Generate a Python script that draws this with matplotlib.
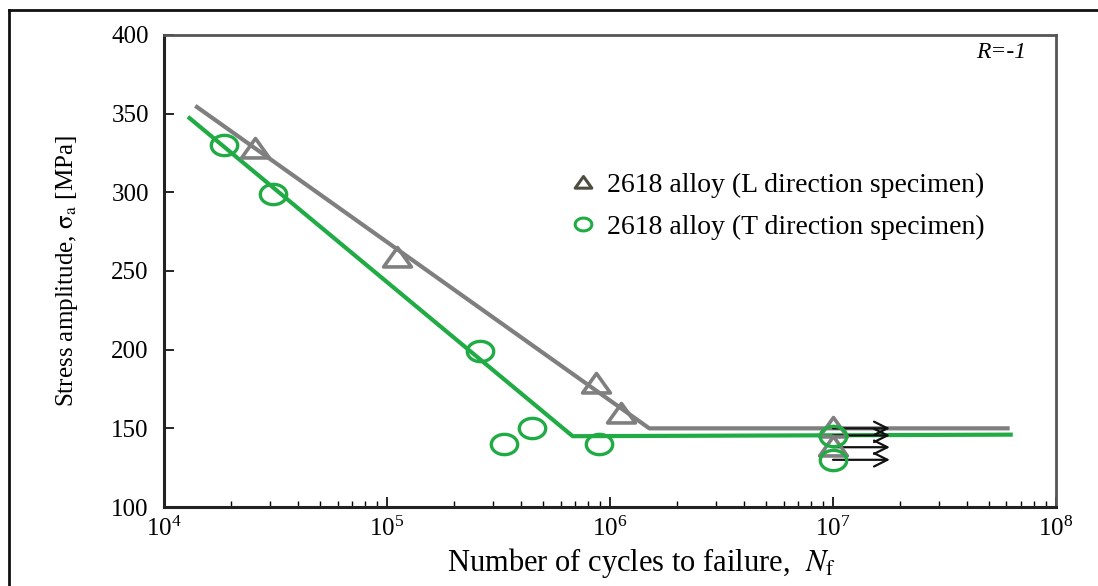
import matplotlib
matplotlib.use("Agg")
import numpy as np
import matplotlib.pyplot as plt
from matplotlib.lines import Line2D
from matplotlib.path import Path

plt.rcParams["font.family"] = ["Liberation Serif", "DejaVu Serif"]
plt.rcParams["mathtext.fontset"] = "stix"

# fitted S-N lines (knee then fatigue limit)
l_fit_n = [1.38e4, 1.5e6, 6.2e7]
l_fit_s = [355, 150, 150]
t_fit_n = [1.28e4, 6.8e5, 6.4e7]
t_fit_s = [348, 145, 146]

# L direction specimens (triangles)
l_n = [2.55e4, 1.11e5, 8.65e5, 1.12e6]
l_s = [328, 259, 179, 160]
l_runout_n = [1e7, 1e7]
l_runout_s = [151, 139]

# T direction specimens (circles)
t_n = [1.85e4, 3.08e4, 2.6e5, 3.36e5, 4.48e5, 8.93e5]
t_s = [330, 299, 199, 140, 150, 140]
t_runout_n = [1e7, 1e7]
t_runout_s = [145, 130]

# run-out arrows
arrow_start = 1e7
arrow_end = 1.8e7
arrow_s = [150, 145.5, 138, 130]

GRAY = "#7f7f7f"
GREEN = "#20ab45"

# the source picture is stretched sideways, so the markers are too
_t = np.linspace(0, 2 * np.pi, 60)
ELLIPSE = Path(np.column_stack([1.3 * np.cos(_t), np.sin(_t)]), closed=True)
WIDE_TRI = Path([(-1.0, -0.68), (1.0, -0.68), (0.0, 0.72), (-1.0, -0.68)], closed=True)

fig = plt.figure(figsize=(10.98, 5.86), dpi=100)
ax = fig.add_axes([0.1494, 0.1348, 0.8123, 0.8055])

ax.plot(l_fit_n, l_fit_s, color=GRAY, linewidth=3.0, solid_capstyle="butt", zorder=2)
ax.plot(t_fit_n, t_fit_s, color=GREEN, linewidth=3.0, solid_capstyle="butt", zorder=2)

for s in arrow_s:
    ax.annotate("", xy=(arrow_end, s), xytext=(arrow_start, s),
                arrowprops=dict(arrowstyle="->", color="#111111", lw=1.6,
                                mutation_scale=24, shrinkA=0, shrinkB=0),
                zorder=3)

ax.plot(l_n + l_runout_n, l_s + l_runout_s, linestyle="none", marker=WIDE_TRI,
        markersize=20, markerfacecolor="none", markeredgecolor=GRAY,
        markeredgewidth=2.6, zorder=4)
ax.plot(t_n + t_runout_n, t_s + t_runout_s, linestyle="none", marker=ELLIPSE,
        markersize=19, markerfacecolor="none", markeredgecolor=GREEN,
        markeredgewidth=2.4, zorder=5)

ax.set_xscale("log")
ax.set_xlim(1e4, 1e8)
ax.set_ylim(100, 400)
ax.set_yticks([100, 150, 200, 250, 300, 350, 400])
ax.tick_params(axis="both", which="major", direction="in", length=7, width=1.2,
               labelsize=18, top=False, right=False)
ax.tick_params(axis="y", which="major", pad=11)
ax.tick_params(axis="x", which="major", pad=7)
ax.tick_params(axis="x", which="minor", direction="in", length=4, width=1.0,
               top=False)

for side in ["left", "bottom"]:
    ax.spines[side].set_linewidth(2.2)
    ax.spines[side].set_color("#222222")
for side in ["top", "right"]:
    ax.spines[side].set_linewidth(2.0)
    ax.spines[side].set_color("#555555")

ax.set_xlabel(r"Number of cycles to failure,  $N_\mathrm{f}$", fontsize=22)
ax.xaxis.set_label_coords(0.535, -0.082)
ax.set_ylabel(r"Stress amplitude, $\mathrm{\sigma_a}$ [MPa]", fontsize=18)
ax.yaxis.set_label_coords(-0.094, 0.5)

ax.text(0.967, 0.985, "R=-1", transform=ax.transAxes, ha="right", va="top",
        fontsize=17, style="italic")

handles = [
    Line2D([], [], linestyle="none", marker=WIDE_TRI, markersize=12,
           markerfacecolor="none", markeredgecolor="#4d4d3f", markeredgewidth=2.2),
    Line2D([], [], linestyle="none", marker=ELLIPSE, markersize=12,
           markerfacecolor="none", markeredgecolor=GREEN, markeredgewidth=2.2),
]
ax.legend(handles, ["2618 alloy (L direction specimen)", "2618 alloy (T direction specimen)"],
          loc="upper left", bbox_to_anchor=(0.428, 0.762), frameon=False,
          fontsize=20, handlelength=0.9, handletextpad=0.4, labelspacing=0.6)

# outer frame of the original figure panel
fig.add_artist(Line2D([0.0082, 1.0], [0.983, 0.983], color="#111111", linewidth=2.0))
fig.add_artist(Line2D([0.0082, 0.0082], [0.0, 0.983], color="#111111", linewidth=2.0))

fig.savefig("out.png", dpi=100)
plt.close(fig)
